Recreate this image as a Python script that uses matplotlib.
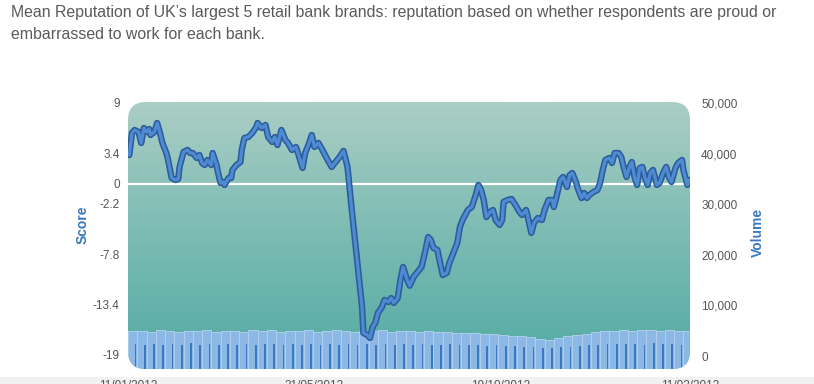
import matplotlib
matplotlib.use("Agg")
import matplotlib.pyplot as plt
import matplotlib.patches as patches
from matplotlib.colors import LinearSegmentedColormap
from matplotlib.ticker import FixedLocator, FuncFormatter
import numpy as np
import pandas as pd

# --- data ---
start_date = "2012-01-11"
end_date = "2013-03-11"

# score line: day offset from start_date, mean reputation score
score_days = [1, 3, 5, 8, 10, 12, 14, 16, 17, 20, 22, 24, 26, 29, 30, 33, 36, 38, 39, 42,
              45, 47, 49, 52, 54, 56, 58, 60, 63, 64, 67, 68, 70, 72, 73, 76, 78, 79, 82, 85,
              86, 88, 91, 94, 97, 98, 101, 104, 106, 109, 111, 113, 116, 119, 121, 124, 127, 129, 132, 134,
              137, 139, 141, 144, 147, 149, 151, 154, 157, 160, 163, 166, 169, 173, 177, 178, 181, 183, 185, 187,
              189, 192, 194, 197, 199, 201, 204, 206, 208, 211, 213, 216, 219, 222, 225, 227, 229, 231, 234, 236,
              238, 241, 243, 246, 249, 251, 253, 255, 257, 260, 263, 265, 267, 269, 271, 274, 276, 278, 281, 283,
              284, 287, 290, 293, 296, 298, 301, 302, 305, 307, 310, 313, 315, 318, 321, 322, 324, 327, 329, 332,
              334, 336, 339, 340, 343, 345, 347, 349, 352, 355, 357, 359, 361, 364, 366, 368, 371, 373, 375, 377,
              379, 381, 383, 385, 387, 389, 391, 393, 395, 397, 400, 402, 405, 407, 409, 411, 414, 416, 419, 420,
              423, 424]
score_vals = [3.22, 5.67, 6.0, 5.78, 4.56, 6.22, 5.78, 6.11, 5.44, 5.78, 6.78, 5.78, 4.56, 3.44, 2.89, 0.67, 0.44, 0.56, 1.89, 3.56,
              3.78, 3.44, 3.44, 2.89, 3.22, 2.33, 2.11, 2.67, 2.11, 3.44, 2.11, 1.33, 0.11, 0.22, -0.11, 0.67, 0.67, 1.56, 2.11, 2.44,
              3.78, 5.11, 5.22, 5.67, 6.33, 6.78, 6.22, 6.56, 5.22, 4.67, 5.22, 4.33, 6.0, 4.89, 4.56, 3.78, 4.11, 3.22, 1.78, 3.44,
              4.56, 5.44, 4.11, 4.56, 3.78, 3.22, 2.67, 1.89, 2.44, 3.0, 3.67, 1.89, -2.56, -8.11, -13.67, -16.56, -16.78, -17.11, -15.89, -15.44,
              -14.33, -13.67, -12.89, -13.11, -12.67, -13.22, -12.67, -10.67, -9.22, -10.6, -11.3, -10.33, -9.78, -9.22, -7.33, -5.89, -6.22, -7.11, -7.33, -8.78,
              -10.11, -9.89, -8.78, -7.67, -6.56, -4.78, -4.0, -3.44, -2.89, -2.56, -1.22, -0.11, -0.67, -1.78, -3.67, -3.11, -2.89, -4.0, -4.56, -4.0,
              -2.0, -1.78, -1.67, -2.33, -3.11, -3.44, -2.89, -3.44, -5.44, -4.33, -3.78, -4.0, -2.89, -1.78, -1.78, -2.56, -1.44, 0.44, 0.78, -0.33,
              1.0, 1.22, 0.11, -0.44, -1.56, -1.0, -1.56, -1.22, -0.89, -0.67, 0.11, 1.56, 2.67, 2.89, 2.33, 3.44, 3.44, 3.0, 1.78, 0.78,
              1.78, 2.44, 0.78, -0.11, 1.78, 1.89, 0.67, -0.11, 1.22, 1.56, -0.11, 0.11, 1.33, 1.89, 0.78, 0.22, 1.78, 2.33, 2.67, 1.56,
              -0.11, 0.44]

# weekly volume: weekday level and weekend level
weekday_volume = [4900, 5000, 4800, 5100, 4900, 4700, 5000, 4900, 5200, 4800, 4900, 5000, 4800,
                  5100, 4900, 5200, 4800, 5000, 4900, 5100, 4800, 4900, 5200,
                  4900, 4800, 5000, 4900, 5100, 4800, 4900, 5000, 4800, 4900, 4700, 4800, 4600,
                  4500, 4600, 4400, 4300, 4200,
                  4000, 3900, 3700,
                  3300, 3200,
                  3600, 3900, 4100,
                  4400, 4700, 4900, 5000,
                  5100, 5000, 5200, 5100, 5000, 5100, 4900, 5000]
weekend_volume = [2300, 2200, 2400, 2100, 2300, 2200, 2500, 2200, 2300, 2100, 2400, 2200, 2300,
                  2200, 2400, 2300, 2100, 2300, 2200, 2400, 2200, 2300, 2200,
                  2300, 2100, 2400, 2200, 2300, 2200, 2400, 2100, 2300, 2200, 2100, 2300, 2200,
                  2100, 2200, 2000, 2100, 2000,
                  1900, 1800, 1700,
                  1600, 1500,
                  1700, 1800, 1900,
                  2100, 2200, 2300, 2400,
                  2300, 2400, 2200, 2500, 2300, 2400, 2200, 2300]

score_ticks = [9, 3.4, 0, -2.2, -7.8, -13.4, -19]
volume_ticks = [0, 10000, 20000, 30000, 40000, 50000]
date_ticks = ["2012-01-11", "2012-05-31", "2012-10-19", "2013-03-11"]
date_labels = ["11/01/2012", "31/05/2012", "19/10/2012", "11/03/2013"]

# --- figure ---
W, H, DPI = 814, 384, 100
fig = plt.figure(figsize=(W / DPI, H / DPI), dpi=DPI)
fig.patch.set_facecolor("white")
plt.rcParams["font.family"] = ["Liberation Sans", "DejaVu Sans"]

# faint grey band at the very bottom of the screenshot
fig.add_artist(patches.Rectangle((0, 0), 1, 7 / H, transform=fig.transFigure,
                                 facecolor="#f1f1f1", edgecolor="none", zorder=0))

# plot area in pixels
px_l, px_r, px_t, px_b = 128, 690, 102, 369
rect = [px_l / W, (H - px_b) / H, (px_r - px_l) / W, (px_b - px_t) / H]

ax_vol = fig.add_axes(rect)
ax = ax_vol.twinx()
ax.set_zorder(ax_vol.get_zorder() + 1)
ax.patch.set_visible(False)

# rounded frame used for background + clipping (in inches so corners stay round)
frame = patches.FancyBboxPatch((px_l / DPI, (H - px_b) / DPI), (px_r - px_l) / DPI, (px_b - px_t) / DPI,
                               boxstyle="round,pad=0,rounding_size=0.18",
                               transform=fig.dpi_scale_trans)

cmap = LinearSegmentedColormap.from_list("bg", ["#52aba4", "#7bbbb3", "#abcec5"])
grad = np.linspace(0, 1, 256).reshape(-1, 1)
bg = ax_vol.imshow(grad, extent=[0, 1, 0, 1], transform=ax_vol.transAxes, origin="lower",
                   cmap=cmap, aspect="auto", zorder=0)
bg.set_clip_path(frame)

t0 = pd.Timestamp(start_date)
t1 = pd.Timestamp(end_date)

# volume bars
vol_low, vol_high = -2569, 50198
week_starts = [t0 + pd.Timedelta(days=7 * i) for i in range(len(weekday_volume))]
light = ax_vol.bar(week_starts, np.array(weekday_volume) - vol_low, bottom=vol_low, width=7,
                   align="edge", color="#8cb8e6", edgecolor="#b4d1ef", linewidth=0.6, zorder=2)
weekend_pos = [d + pd.Timedelta(days=5) for d in week_starts]
dark = ax_vol.bar(weekend_pos, np.array(weekend_volume) - vol_low, bottom=vol_low, width=1.3,
                  align="edge", color="#3c78c2", edgecolor="none", zorder=3)
for b in list(light) + list(dark):
    b.set_clip_path(frame)

ax_vol.set_ylim(vol_low, vol_high)
ax_vol.yaxis.set_major_locator(FixedLocator(volume_ticks))
ax_vol.yaxis.set_major_formatter(FuncFormatter(lambda v, p: f"{int(v):,}"))

# score line
score_dates = [t0 + pd.Timedelta(days=d) for d in score_days]
ax.axhline(0, color="white", linewidth=1.6, zorder=2)
l1, = ax.plot(score_dates, score_vals, color="#2c5c9c", linewidth=4.6,
              solid_joinstyle="round", solid_capstyle="round", zorder=3)
l2, = ax.plot(score_dates, score_vals, color="#4f8bd2", linewidth=2.3,
              solid_joinstyle="round", solid_capstyle="round", zorder=4)
for ln in (l1, l2):
    ln.set_clip_path(frame)

ax.set_ylim(-20.56, 9.11)
ax.yaxis.set_major_locator(FixedLocator(score_ticks))
ax.yaxis.set_major_formatter(FuncFormatter(lambda v, p: f"{v:g}"))

# swap sides: score on the left, volume on the right
ax.yaxis.tick_left()
ax.yaxis.set_label_position("left")
ax_vol.yaxis.tick_right()
ax_vol.yaxis.set_label_position("right")

ax_vol.set_xlim(t0, t1)
ax_vol.xaxis.set_major_locator(FixedLocator([matplotlib.dates.date2num(pd.Timestamp(d)) for d in date_ticks]))
ax_vol.set_xticklabels(date_labels)

for a in (ax, ax_vol):
    for s in a.spines.values():
        s.set_visible(False)
    a.tick_params(length=0, labelsize=8.5, labelcolor="#555555")
ax.tick_params(axis="y", pad=6)
ax_vol.tick_params(axis="y", pad=8)
ax_vol.tick_params(axis="x", pad=8)
ax.tick_params(axis="x", which="both", labelbottom=False)

ax.set_ylabel("Score", fontsize=10, fontweight="bold", color="#3b78c0")
ax.yaxis.set_label_coords(-0.069, 0.54)
ax_vol.set_ylabel("Volume", fontsize=10, fontweight="bold", color="#3b78c0")
ax_vol.yaxis.set_label_coords(1.1085, 0.51)

fig.text(11 / W, 1 - 5 / H,
         "Mean Reputation of UK\u2019s largest 5 retail bank brands: reputation based on whether respondents are proud or\n"
         "embarrassed to work for each bank.",
         ha="left", va="top", fontsize=11.4, color="#5a5a5a", linespacing=1.6)

fig.savefig("out.png", dpi=DPI, facecolor=fig.get_facecolor())
